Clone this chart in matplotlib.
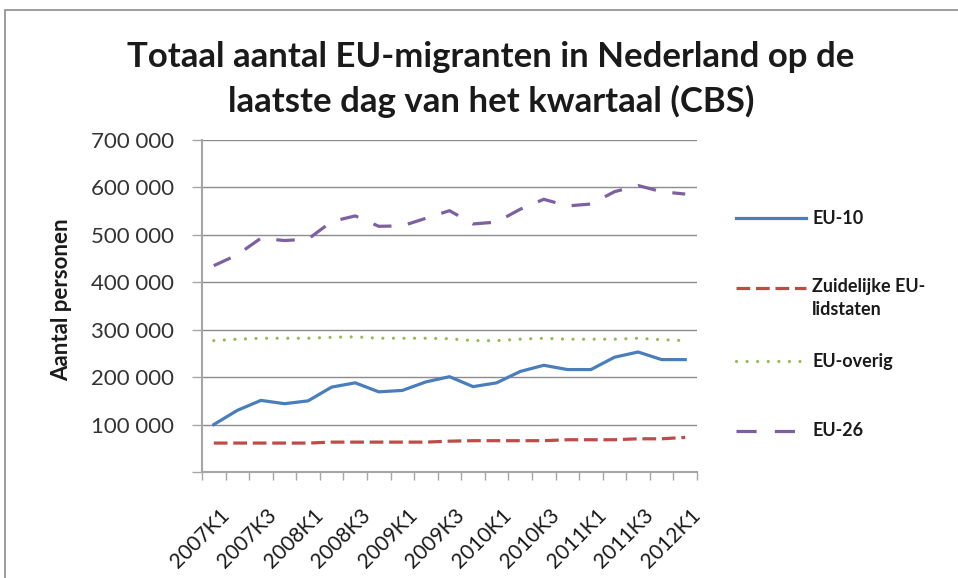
import matplotlib
matplotlib.use("Agg")
import matplotlib.pyplot as plt
from matplotlib.lines import Line2D
from matplotlib.patches import Rectangle
from matplotlib.transforms import ScaledTranslation

plt.rcParams['font.family'] = ['Lato', 'DejaVu Sans']

quarters = [f"{y}K{q}" for y in range(2007, 2012) for q in range(1, 5)] + ["2012K1"]

eu10 = [100000, 130000, 151000, 144000, 150000, 179000, 188000, 169000, 172000, 190000,
        201000, 180000, 188000, 212000, 225000, 216000, 216000, 242000, 253000, 237000, 237000]
zuid = [61000, 61000, 61000, 61000, 61000, 63000, 63000, 63000, 63000, 63000,
        65000, 66000, 66000, 66000, 66000, 68000, 68000, 68000, 70000, 70000, 73000]
overig = [277000, 280000, 282000, 282000, 282000, 284000, 285000, 282000, 282000, 282000,
          281000, 277000, 277000, 280000, 282000, 280000, 280000, 280000, 282000, 279000, 277000]
eu26 = [435000, 458000, 493000, 488000, 491000, 528000, 540000, 518000, 519000, 535000,
        551000, 523000, 527000, 554000, 575000, 561000, 565000, 591000, 604000, 591000, 586000]

yticks = [0, 100000, 200000, 300000, 400000, 500000, 600000, 700000]
yticklabels = ["", "100 000", "200 000", "300 000", "400 000", "500 000", "600 000", "700 000"]

labels = ["EU-10", "Zuidelijke EU-\nlidstaten", "EU-overig", "EU-26"]
colors = ["#4A7EBB", "#BE4B48", "#98B954", "#7D60A0"]

W, H = 958, 578
fig = plt.figure(figsize=(W / 100, H / 100), dpi=100)
ax = fig.add_axes([202 / W, 1 - 472 / H, (697 - 202) / W, (472 - 140) / H])

x = list(range(len(quarters)))
lw = 2.3
red_d = (4.3, 1.8)
green_d = (0.01, 3.3)
purple_d = (5.8, 5.2)
ax.plot(x, eu10, color=colors[0], lw=lw, solid_joinstyle='round')
ax.plot(x, zuid, color=colors[1], lw=lw, dashes=red_d)
ax.plot(x, overig, color=colors[2], lw=lw, dashes=green_d, dash_capstyle='round')
ax.plot(x, eu26, color=colors[3], lw=lw, dashes=purple_d)

ax.set_xlim(-0.5, len(quarters) - 0.5)
ax.set_ylim(0, 700000)
ax.set_yticks(yticks)
ax.set_yticklabels(yticklabels)
ax.set_xticks(x[::2])
ax.set_xticklabels(quarters[::2], rotation=45, ha='right', va='top', rotation_mode='anchor')
ax.set_xticks([i - 0.5 for i in range(len(quarters) + 1)], minor=True)
ax.tick_params(axis='x', which='major', length=0, pad=24, labelsize=15, labelcolor='#1a1a1a')
ax.tick_params(axis='x', which='minor', length=6, width=1, color='#a6a6a6', direction='out')
ax.tick_params(axis='y', length=7, width=1, color='#a6a6a6', direction='out', labelsize=16,
               labelcolor='#333333', pad=13)
off = ScaledTranslation(0.05, 0, fig.dpi_scale_trans)
for lab in ax.get_xticklabels():
    lab.set_transform(lab.get_transform() + off)

ax.grid(axis='y', color='#8c8c8c', lw=1)
ax.set_axisbelow(True)
for s in ['top', 'right']:
    ax.spines[s].set_visible(False)
for s in ['left', 'bottom']:
    ax.spines[s].set_color('#a6a6a6')
    ax.spines[s].set_linewidth(1.5)

fig.text(62 / W, 1 - 300 / H, "Aantal personen", rotation=90, ha='center', va='center',
         fontsize=16, fontweight='bold', color='#1a1a1a')
fig.text(491 / W, 1 - 67 / H, "Totaal aantal EU-migranten in Nederland op de",
         ha='center', va='baseline', fontsize=25, fontweight='bold', color='#1a1a1a')
fig.text(491 / W, 1 - 112 / H, "laatste dag van het kwartaal (CBS)",
         ha='center', va='baseline', fontsize=25, fontweight='bold', color='#1a1a1a')

# legend (manual layout)
leg_y = [218, 288, 361, 431]
styles = [dict(), dict(dashes=red_d), dict(dashes=green_d, dash_capstyle='round'),
          dict(dashes=(6.3, 5.7))]
for lab, c, yy, st in zip(labels, colors, leg_y, styles):
    fy = 1 - yy / H
    fig.add_artist(Line2D([736 / W, 806 / W], [fy, fy], color=c, lw=lw, **st))
    if '\n' in lab:
        fig.text(812 / W, fy + 10 / H, lab, ha='left', va='top', fontsize=13,
                 fontweight='bold', color='#1a1a1a', linespacing=1.45)
    else:
        fig.text(812 / W, fy, lab, ha='left', va='center', fontsize=13,
                 fontweight='bold', color='#1a1a1a')

fig.add_artist(Rectangle((5 / W, -0.1), 1.1, 1 - 10 / H + 0.1, fill=False,
                         edgecolor='#8c8c8c', lw=1.2, transform=fig.transFigure))

fig.savefig("out.png", dpi=100)
